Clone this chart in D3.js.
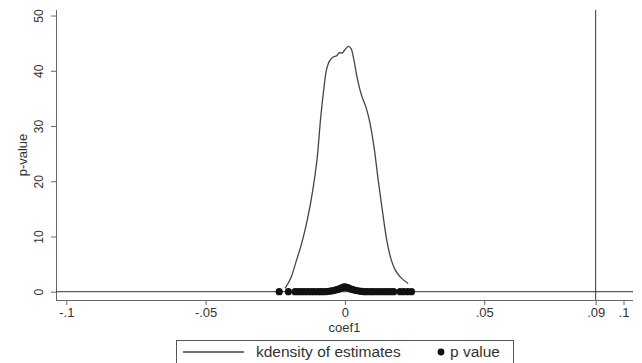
<!DOCTYPE html>
<html>
<head>
<meta charset="utf-8">
<script src="https://cdn.jsdelivr.net/npm/d3@7"></script>
<style>
  body { margin: 0; background: #fff; }
  text { font-family: "Liberation Sans", Arial, sans-serif; fill: #333; }
</style>
</head>
<body>
<svg id="chart"></svg>
<script>
// kernel density of the estimates (coef1 -> density)
var densCoef = [-0.0215, -0.0195, -0.0175, -0.0155, -0.0135, -0.0115, -0.0100, -0.0087, -0.0075, -0.0066,
  -0.0055, -0.0042, -0.0030, -0.0020, -0.0010, 0.0000, 0.0012, 0.0022, 0.0032, 0.0045,
  0.0060, 0.0075, 0.0090, 0.0105, 0.0120, 0.0135, 0.0150, 0.0165, 0.0180, 0.0200, 0.0227];
var densVal = [0.6, 2.4, 5.5, 8.8, 13.0, 18.5, 24.0, 31.5, 37.0, 40.2,
  41.8, 42.5, 42.7, 43.3, 43.2, 43.8, 44.4, 44.0, 42.0, 38.5,
  35.5, 33.5, 30.5, 26.0, 20.0, 14.5, 9.4, 6.0, 4.0, 2.6, 1.5];

// p values of each estimate
var pCoef = [-0.0236, -0.0203, -0.0179, -0.0168, -0.0156, -0.0145, -0.0133, -0.0121, -0.0110, -0.0098,
  -0.0087, -0.0076, -0.0066, -0.0057, -0.0048, -0.0040, -0.0032, -0.0025, -0.0018, -0.0011,
  -0.0005, 0.0000, 0.0006, 0.0012, 0.0019, 0.0026, 0.0034, 0.0042, 0.0051, 0.0060,
  0.0070, 0.0081, 0.0093, 0.0104, 0.0116, 0.0128, 0.0140, 0.0151, 0.0163, 0.0175,
  0.0198, 0.0211, 0.0225, 0.0239];
var pVal = [0.00, 0.00, 0.00, 0.00, 0.00, 0.00, 0.00, 0.00, 0.00, 0.00,
  0.00, 0.01, 0.02, 0.08, 0.15, 0.22, 0.32, 0.42, 0.55, 0.68,
  0.82, 0.90, 0.80, 0.68, 0.54, 0.42, 0.30, 0.20, 0.12, 0.05,
  0.01, 0.00, 0.00, 0.00, 0.00, 0.00, 0.00, 0.00, 0.00, 0.00,
  0.00, 0.00, 0.00, 0.00];

var xTicks = [-0.1, -0.05, 0, 0.05, 0.09, 0.1];
var xTickLabels = ["-.1", "-.05", "0", ".05", ".09", ".1"];
var yTicks = [0, 10, 20, 30, 40, 50];
var xLineAt = 0.09;
var legendLabels = ["kdensity of estimates", "p value"];

var W = 642, H = 363;
var plotL = 56, plotR = 633, plotT = 10, plotB = 300;

var svg = d3.select("#chart").attr("width", W).attr("height", H);

var x = d3.scaleLinear().domain([-0.1037, 0.1034]).range([plotL, plotR]);
var y = d3.scaleLinear().domain([-1.5, 51.0]).range([plotB, plotT]);

// X axis
var xAxis = svg.append("g")
  .attr("transform", "translate(0," + plotB + ")")
  .call(d3.axisBottom(x).tickValues(xTicks).tickSize(5).tickPadding(3)
    .tickFormat(function (d, i) { return xTickLabels[i]; }));
xAxis.select(".domain").attr("stroke", "#666").attr("d", "M" + plotL + ",0.5H" + plotR);
xAxis.selectAll(".tick line").attr("stroke", "#666");
xAxis.selectAll(".tick text").style("font-size", "13px").attr("fill", "#444");

// Y axis
var yAxis = svg.append("g")
  .attr("transform", "translate(" + plotL + ",0)")
  .call(d3.axisLeft(y).tickValues(yTicks).tickSize(5).tickFormat(d3.format("d")));
yAxis.select(".domain").attr("stroke", "#666").attr("d", "M0.5," + plotT + "V" + plotB);
yAxis.selectAll(".tick line").attr("stroke", "#666");
yAxis.selectAll(".tick text")
  .style("font-size", "12px").attr("fill", "#444")
  .attr("x", 0).attr("dy", 0)
  .attr("text-anchor", "middle")
  .attr("transform", "translate(-13,0) rotate(-90)");

// zero line and xline
svg.append("line")
  .attr("x1", plotL).attr("x2", plotR)
  .attr("y1", y(0)).attr("y2", y(0))
  .attr("stroke", "#333").attr("stroke-width", 1);
svg.append("line")
  .attr("x1", x(xLineAt)).attr("x2", x(xLineAt))
  .attr("y1", plotT).attr("y2", plotB)
  .attr("stroke", "#333").attr("stroke-width", 1);

// axis titles
svg.append("text")
  .attr("transform", "translate(22," + (plotT + plotB) / 2 + ") rotate(-90)")
  .attr("text-anchor", "middle").attr("dy", "0.35em")
  .style("font-size", "13px").text("p-value");
svg.append("text")
  .attr("x", (plotL + plotR) / 2).attr("y", 327).attr("dy", "0.35em")
  .attr("text-anchor", "middle")
  .style("font-size", "13px").text("coef1");

// density line
var densData = densCoef.map(function (c, i) { return { c: c, v: densVal[i] }; });
svg.append("path")
  .datum(densData)
  .attr("fill", "none")
  .attr("stroke", "#444")
  .attr("stroke-width", 1.3)
  .attr("d", d3.line()
    .x(function (d) { return x(d.c); })
    .y(function (d) { return y(d.v); })
    .curve(d3.curveCatmullRom));

// p value dots
svg.append("g")
  .selectAll("circle")
  .data(pCoef)
  .enter()
  .append("circle")
  .attr("cx", function (d) { return x(d); })
  .attr("cy", function (d, i) { return y(pVal[i]); })
  .attr("r", 3.6)
  .attr("fill", "#111");

// legend
svg.append("rect")
  .attr("x", 176.5).attr("y", 340.5)
  .attr("width", 337).attr("height", 30)
  .attr("fill", "#fff").attr("stroke", "#555");
svg.append("line")
  .attr("x1", 183).attr("x2", 244).attr("y1", 352).attr("y2", 352)
  .attr("stroke", "#444").attr("stroke-width", 1.3);
svg.append("text").attr("x", 256).attr("y", 352).attr("dy", "0.35em")
  .style("font-size", "15.5px").text(legendLabels[0]);
svg.append("circle").attr("cx", 441).attr("cy", 352).attr("r", 3.4).attr("fill", "#111");
svg.append("text").attr("x", 450).attr("y", 352).attr("dy", "0.35em")
  .style("font-size", "15.5px").text(legendLabels[1]);
</script>
</body>
</html>
